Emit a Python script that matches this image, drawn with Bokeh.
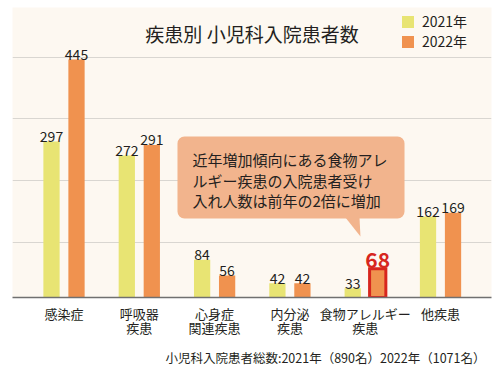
from bokeh.plotting import figure
from bokeh.models import (ColumnDataSource, Range1d, FixedTicker, Label, BoxAnnotation,
                          Title, Legend, LegendItem, CDSView, IndexFilter)
from bokeh.transform import dodge
from bokeh.core.properties import value
from bokeh.embed import file_html
from bokeh.resources import INLINE

# ---------------- data ----------------
categories = ["感染症", "呼吸器\n疾患", "心身症\n関連疾患", "内分泌\n疾患", "食物アレルギー\n疾患", "他疾患"]
series_2021 = [297, 272, 84, 42, 33, 162]
series_2022 = [445, 291, 56, 42, 68, 169]
legend_labels = ["2021年", "2022年"]
title_text = "疾患別 小児科入院患者数"
note_lines = ["近年増加傾向にある食物アレ", "ルギー疾患の入院患者受け", "入れ人数は前年の2倍に増加"]
footer_text = "小児科入院患者総数:2021年（890名）2022年（1071名）"
highlight_category = "食物アレルギー\n疾患"

# ---------------- style ----------------
FONT = "Noto Sans CJK JP"
YELLOW = "#E8E473"
ORANGE = "#F0924F"
CREAM = "#FDF8F1"
RED = "#D7261E"
SALMON = "#F2B48D"
GRID = "#D9D6D1"
AXIS = "#707070"
TEXT = "#231F20"
OFF = 0.166
BW = 0.216

n = len(categories)
hi = categories.index(highlight_category)
others = [i for i in range(n) if i != hi]

src = ColumnDataSource(dict(
    idx=list(range(n)),
    v2021=series_2021,
    v2022=series_2022,
    t2021=[str(v) for v in series_2021],
    t2022=[str(v) for v in series_2022],
))

x_range = Range1d(-0.684, 5.677)
y_range = Range1d(16.2, 538.6)

p = figure(width=500, height=374, x_range=x_range, y_range=y_range,
           output_backend="svg", toolbar_location=None,
           y_axis_location=None,
           min_border_left=12, min_border_right=9, min_border_top=7, min_border_bottom=77)
p.background_fill_color = CREAM
p.border_fill_color = "white"
p.outline_line_color = None

p.xgrid.visible = False
p.ygrid.ticker = FixedTicker(ticks=[116, 227, 338, 449])
p.ygrid.grid_line_color = GRID
p.ygrid.grid_line_width = 1.2

ax = p.xaxis[0]
ax.ticker = FixedTicker(ticks=list(range(n)))
ax.major_label_overrides = {i: c for i, c in enumerate(categories)}
ax.major_tick_line_color = None
ax.minor_tick_line_color = None
ax.axis_line_color = AXIS
ax.axis_line_width = 1.5
ax.major_label_standoff = 0
ax.major_label_text_font = FONT
ax.major_label_text_font_size = "13px"
ax.major_label_text_line_height = 0.76
ax.major_label_text_color = TEXT

# bars
r1 = p.vbar(x=dodge("idx", -OFF), top="v2021", bottom=0, width=BW, source=src,
            fill_color=YELLOW, line_color=None)
r2 = p.vbar(x=dodge("idx", OFF), top="v2022", bottom=0, width=BW, source=src,
            fill_color=ORANGE, line_color=None)
p.vbar(x=dodge("idx", OFF), top="v2022", bottom=0, width=BW, source=src,
       view=CDSView(filter=IndexFilter([hi])),
       fill_color=None, line_color=RED, line_width=3, line_join="miter")

# value labels
p.text(x=dodge("idx", -OFF), y="v2021", text="t2021", source=src,
       text_align="center", text_baseline="alphabetic", y_offset=-5,
       text_font=value(FONT), text_font_size="14px", text_color=TEXT)
p.text(x=dodge("idx", OFF), y="v2022", text="t2022", source=src,
       view=CDSView(filter=IndexFilter(others)),
       text_align="center", text_baseline="alphabetic", y_offset=-5,
       text_font=value(FONT), text_font_size="14px", text_color=TEXT)
p.text(x=dodge("idx", OFF), y="v2022", text="t2022", source=src,
       view=CDSView(filter=IndexFilter([hi])),
       text_align="center", text_baseline="alphabetic", y_offset=-9,
       text_font=value(FONT), text_font_size="21px", text_font_style="bold", text_color=RED)

# legend
legend = Legend(items=[LegendItem(label=legend_labels[0], renderers=[r1]),
                       LegendItem(label=legend_labels[1], renderers=[r2])],
                location=(388, 246), glyph_width=15, glyph_height=15, label_height=15,
                spacing=0, padding=0, margin=0, label_standoff=7,
                background_fill_alpha=0, border_line_color=None,
                label_text_font=FONT, label_text_font_size="14px", label_text_color=TEXT)
p.add_layout(legend, "center")

# title inside the panel
p.add_layout(Label(x=(x_range.start + x_range.end) / 2, y=491.8, text=title_text,
                   text_align="center", text_baseline="middle",
                   text_font=FONT, text_font_size="19px", text_color=TEXT))

# callout box
box_l, box_r, box_t, box_b = 1.507, 4.522, 306.2, 158.5
p.add_layout(BoxAnnotation(left=box_l, right=box_r, top=box_t, bottom=box_b,
                           fill_color=SALMON, fill_alpha=1, line_color=None,
                           border_radius=7, level="underlay"))
p.patch(x=[3.737, 3.924, 3.937], y=[box_b + 2, box_b + 2, 126.1],
        fill_color=SALMON, line_color=None)
p.text(x=[box_l + 0.2] * 3, y=[284] * 3, text=note_lines, y_offset=[0, 20.7, 41.4],
       text_align="left", text_baseline="top",
       text_font=value(FONT), text_font_size="15px", text_color=TEXT, level="overlay")

# footer
p.add_layout(Title(text=footer_text, align="right", text_font=FONT, text_font_size="12.5px",
                   text_font_style="normal", text_color=TEXT, standoff=12, offset=6), "below")

open("out.html", "w").write(file_html(p, INLINE))
